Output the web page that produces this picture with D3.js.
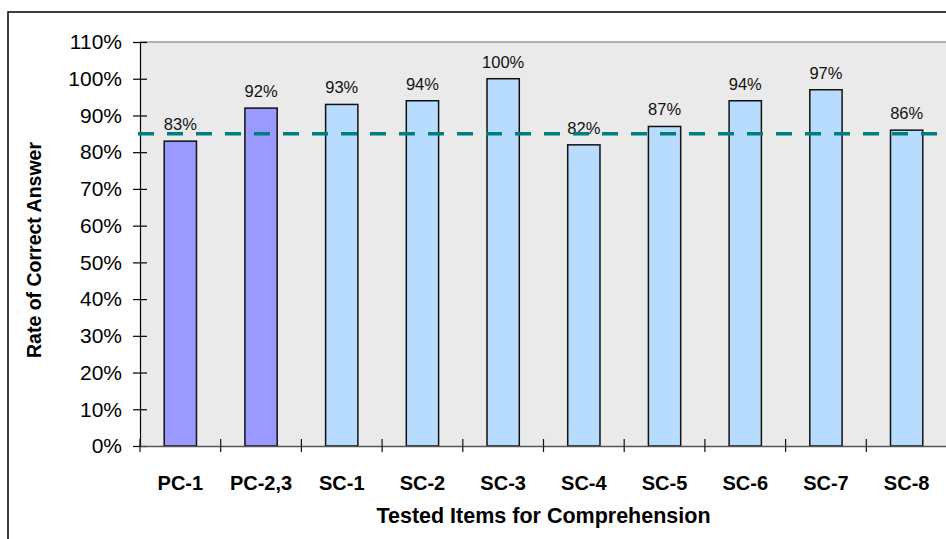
<!DOCTYPE html>
<html>
<head>
<meta charset="utf-8">
<script src="https://cdn.jsdelivr.net/npm/d3@7"></script>
<style>
  html, body { margin: 0; padding: 0; background: #fff; }
  svg { display: block; }
  text { font-family: "Liberation Sans", Arial, sans-serif; fill: #000; }
</style>
</head>
<body>
<svg id="chart" width="946" height="539"></svg>
<script>
// Tested items and their rate of correct answer
const categories = ["PC-1", "PC-2,3", "SC-1", "SC-2", "SC-3", "SC-4", "SC-5", "SC-6", "SC-7", "SC-8"];
const rates = [0.83, 0.92, 0.93, 0.94, 1.00, 0.82, 0.87, 0.94, 0.97, 0.86];
const groups = ["PC", "PC", "SC", "SC", "SC", "SC", "SC", "SC", "SC", "SC"];
const targetRate = 0.85;
const yTicks = [0, 0.1, 0.2, 0.3, 0.4, 0.5, 0.6, 0.7, 0.8, 0.9, 1.0, 1.1];

const groupFill = { PC: "#9999ff", SC: "#b8dcfe" };

const svg = d3.select("#chart");
const plot = { left: 140, top: 42, right: 947, bottom: 446 };

// Outer chart frame (continues past the right and bottom edges)
svg.append("rect")
  .attr("x", 8).attr("y", 12)
  .attr("width", 960).attr("height", 560)
  .attr("fill", "#fff").attr("stroke", "#000").attr("stroke-width", 1.5);

const x = d3.scaleBand()
  .domain(categories)
  .range([plot.left, plot.right])
  .paddingInner(0.6)
  .paddingOuter(0.3);

const y = d3.scaleLinear()
  .domain([0, 1.1])
  .range([plot.bottom, plot.top]);

// Plot area
svg.append("rect")
  .attr("x", plot.left).attr("y", plot.top)
  .attr("width", plot.right - plot.left).attr("height", plot.bottom - plot.top)
  .attr("fill", "#eaeaea");
svg.append("line")
  .attr("x1", plot.left).attr("x2", plot.right)
  .attr("y1", plot.top).attr("y2", plot.top)
  .attr("stroke", "#9a9a9a").attr("stroke-width", 1.5);

// Bars
svg.append("g").selectAll("rect")
  .data(categories)
  .join("rect")
  .attr("x", d => x(d))
  .attr("y", (d, i) => y(rates[i]))
  .attr("width", x.bandwidth())
  .attr("height", (d, i) => y(0) - y(rates[i]))
  .attr("fill", (d, i) => groupFill[groups[i]])
  .attr("stroke", "#111")
  .attr("stroke-width", 1.5);

// Value labels
svg.append("g").selectAll("text")
  .data(categories)
  .join("text")
  .attr("x", d => x(d) + x.bandwidth() / 2)
  .attr("y", (d, i) => y(rates[i]) - 11)
  .attr("text-anchor", "middle")
  .style("font-size", "16.5px")
  .style("fill", "#111")
  .text((d, i) => d3.format(".0%")(rates[i]));

// Y axis
const yAxis = svg.append("g")
  .attr("transform", `translate(${plot.left},0)`)
  .call(d3.axisLeft(y).tickValues(yTicks).tickFormat(d3.format(".0%")).tickSize(7).tickPadding(11));
yAxis.select(".domain").attr("stroke", "#000").attr("stroke-width", 1.2);
yAxis.selectAll(".tick line").attr("x1", 7).attr("x2", -7).attr("stroke", "#000").attr("stroke-width", 1.2);
yAxis.selectAll(".tick text")
  .style("font-size", "21px")
  .style("font-family", "'Liberation Sans', Arial, sans-serif")
  .attr("fill", "#000");

// X axis baseline, category separators and labels
const xAxis = svg.append("g")
  .attr("transform", `translate(0,${plot.bottom})`)
  .call(d3.axisBottom(x).tickSize(0).tickPadding(30));
xAxis.select(".domain").attr("stroke", "#555").attr("stroke-width", 1.5);
xAxis.selectAll(".tick text")
  .style("font-size", "20px")
  .style("font-weight", "bold")
  .style("font-family", "'Liberation Sans', Arial, sans-serif")
  .attr("fill", "#000");

const boundaries = d3.range(categories.length + 1).map(i => plot.left + i * x.step());
xAxis.append("g").selectAll("line")
  .data(boundaries)
  .join("line")
  .attr("x1", d => d).attr("x2", d => d)
  .attr("y1", -7).attr("y2", 6)
  .attr("stroke", "#111").attr("stroke-width", 1.2);

// Reference rate
svg.append("line")
  .attr("x1", plot.left - 2).attr("x2", 946)
  .attr("y1", y(targetRate)).attr("y2", y(targetRate))
  .attr("stroke", "#007f7f")
  .attr("stroke-width", 3.5)
  .attr("stroke-dasharray", "16 13");

// Axis titles
svg.append("text")
  .attr("x", (plot.left + plot.right) / 2)
  .attr("y", 523)
  .attr("text-anchor", "middle")
  .style("font-size", "21.5px")
  .style("font-weight", "bold")
  .text("Tested Items for Comprehension");

svg.append("text")
  .attr("transform", `translate(41,${(plot.top + plot.bottom) / 2 + 6}) rotate(-90)`)
  .attr("text-anchor", "middle")
  .style("font-size", "19.5px")
  .style("font-weight", "bold")
  .text("Rate of Correct Answer");
</script>
</body>
</html>
